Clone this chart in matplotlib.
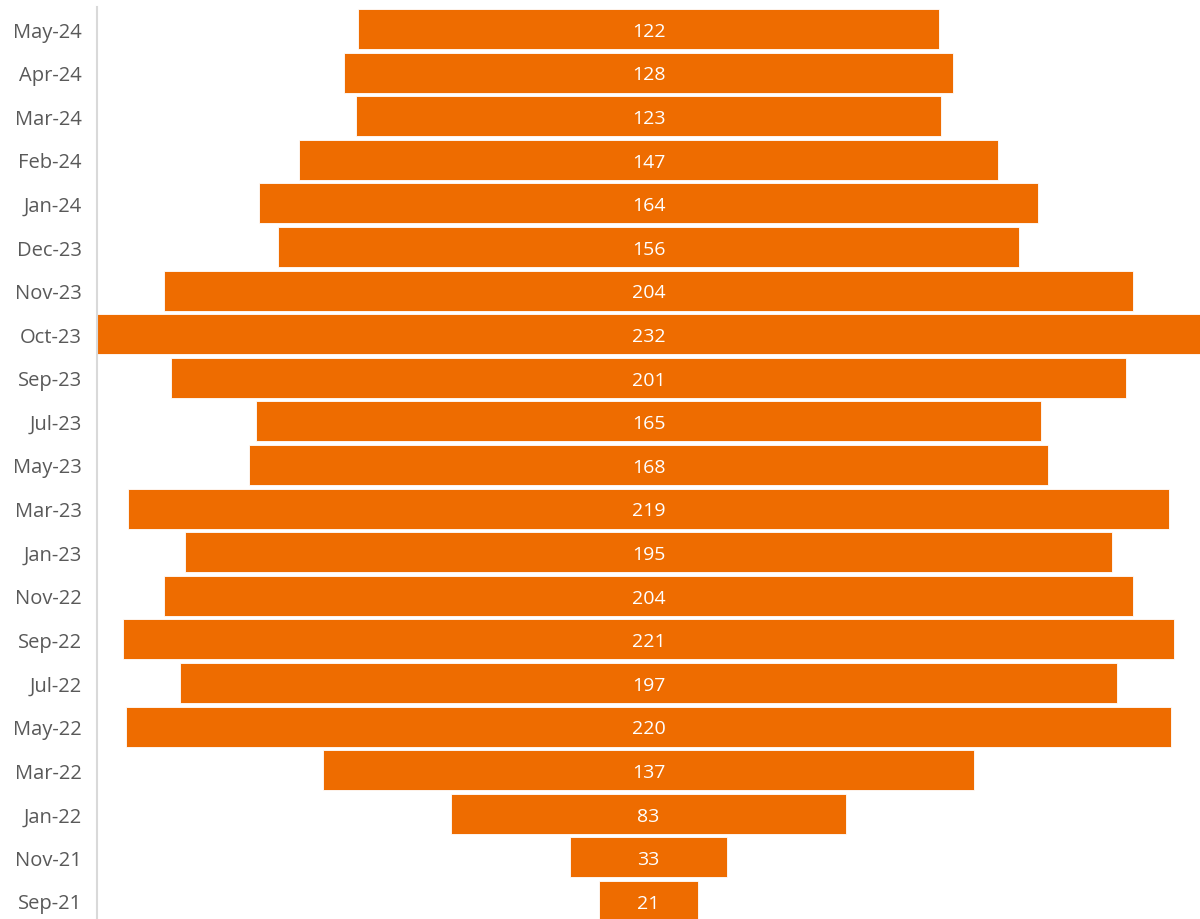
import matplotlib
matplotlib.use("Agg")
import matplotlib.pyplot as plt

months = ["May-24", "Apr-24", "Mar-24", "Feb-24", "Jan-24", "Dec-23", "Nov-23",
          "Oct-23", "Sep-23", "Jul-23", "May-23", "Mar-23", "Jan-23", "Nov-22",
          "Sep-22", "Jul-22", "May-22", "Mar-22", "Jan-22", "Nov-21", "Sep-21"]
values = [122, 128, 123, 147, 164, 156, 204, 232, 201, 165, 168, 219, 195, 204,
          221, 197, 220, 137, 83, 33, 21]

plt.rcParams['font.family'] = ['Open Sans', 'DejaVu Sans']

fig = plt.figure(figsize=(12, 9.2), dpi=100)
ax = fig.add_axes([97/1200, (920-923.8)/920, 1103/1200, (923.8-8.2)/920])

color = "#EE6C00"
ypos = list(range(len(months)))
lefts = [-v/2 for v in values]
ax.barh(ypos, values, left=lefts, height=0.92, color=color,
        edgecolor="white", linewidth=0.6)
for y, v in zip(ypos, values):
    ax.text(0, y + 0.04, str(v), ha="center", va="center", color="white", fontsize=14)

ax.set_xlim(-116, 116)
ax.set_ylim(len(months) - 0.5, -0.5)
ax.set_yticks(ypos)
ax.set_yticklabels(months, fontsize=14.5, color="#595959")
ax.tick_params(axis="y", length=0, pad=11)
ax.set_xticks([])
for s in ["top", "right", "bottom"]:
    ax.spines[s].set_visible(False)
ax.spines["left"].set_color("#D9D9D9")
ax.spines["left"].set_linewidth(1.5)

fig.savefig("out.png", dpi=100)
